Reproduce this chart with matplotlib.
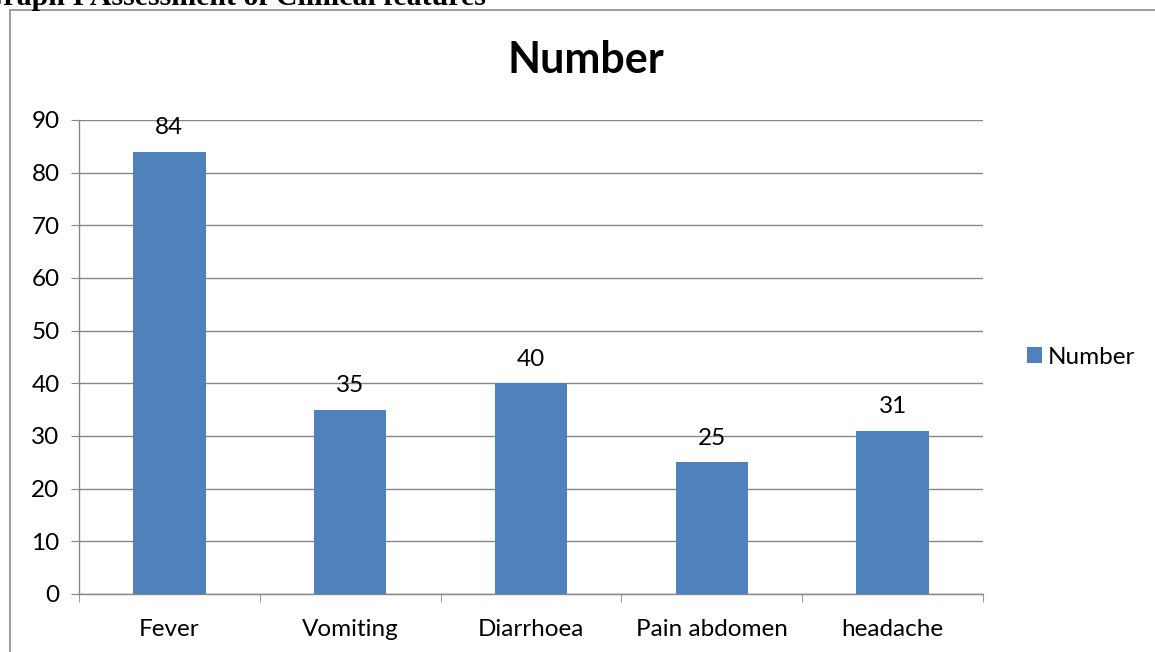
import matplotlib.pyplot as plt
from matplotlib.patches import Rectangle
import numpy as np

categories = ['Fever', 'Vomiting', 'Diarrhoea', 'Pain abdomen', 'headache']
values = [84, 35, 40, 25, 31]
yticks = [0, 10, 20, 30, 40, 50, 60, 70, 80, 90]

plt.rcParams['font.family'] = ['Lato', 'DejaVu Sans']

fig = plt.figure(figsize=(11.55, 6.52), dpi=100)

# chart frame (cut off at right and bottom)
fig.patches.append(Rectangle((10 / 1155, -0.05), 1.2, (642 / 652) + 0.05,
                             transform=fig.transFigure, fill=False,
                             edgecolor='#8c8c8c', linewidth=1.2))

# page caption cut off at the top
fig.text(-20 / 1155, 1 - 5 / 652, 'Graph I Assessment of Clinical features', fontsize=21.5,
         fontweight='bold', family='Liberation Serif', ha='left', va='baseline')

ax = fig.add_axes([79 / 1155, 58 / 652, 904 / 1155, 474 / 652])
x = np.arange(len(categories))
bars = ax.bar(x, values, width=0.4, color='#4F81BD', label='Number', zorder=3)

for xi, v in zip(x, values):
    ax.text(xi, v + 2.6, str(v), ha='center', va='bottom', fontsize=17.5)

ax.set_xlim(-0.5, len(categories) - 0.5)
ax.set_ylim(0, 90)
ax.set_yticks(yticks)
ax.tick_params(axis='y', labelsize=17.5, length=6, color='#868686', pad=8)
ax.set_xticks(x)
ax.set_xticklabels(categories)
ax.tick_params(axis='x', which='major', length=0, labelsize=17.5, pad=18)
ax.set_xticks(np.arange(-0.5, len(categories)), minor=True)
ax.tick_params(axis='x', which='minor', length=6, color='#868686')
ax.grid(axis='y', color='#868686', linewidth=1, zorder=0)
for s in ['top', 'right']:
    ax.spines[s].set_visible(False)
for s in ['left', 'bottom']:
    ax.spines[s].set_color('#868686')
    ax.spines[s].set_linewidth(1)

fig.text(586 / 1155, 1 - 73 / 652, 'Number', fontsize=31, fontweight='bold',
         ha='center', va='baseline')

ax.legend(loc='center left', bbox_to_anchor=(1.025, 0.5), frameon=False,
          fontsize=17.5, handlelength=0.6, handleheight=0.6, handletextpad=0.25)

fig.savefig('out.png', dpi=100)
